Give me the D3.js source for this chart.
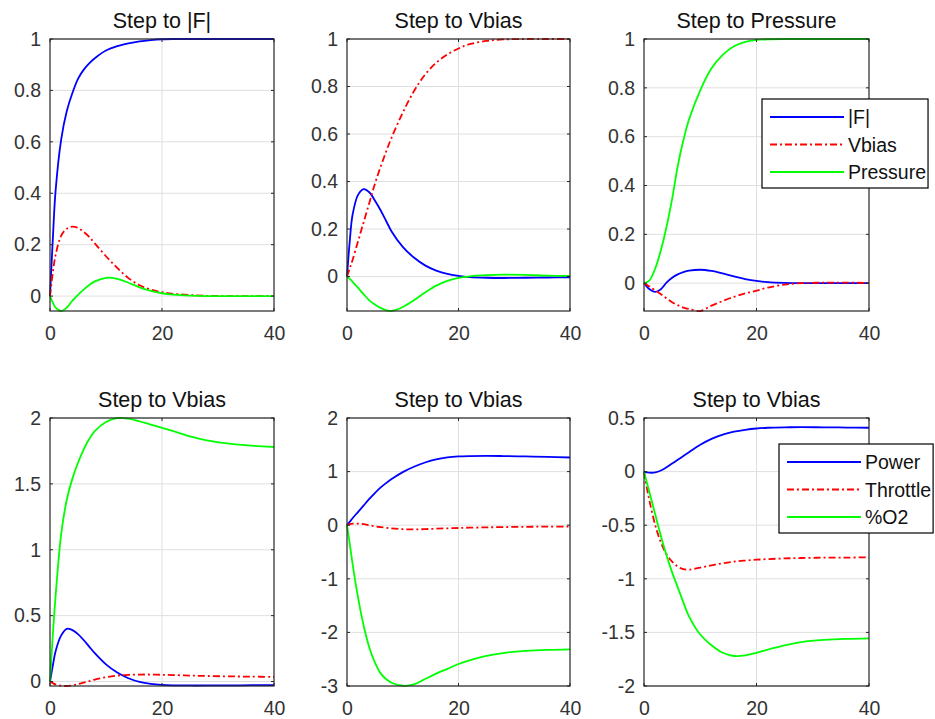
<!DOCTYPE html>
<html>
<head>
<meta charset="utf-8">
<script src="https://cdn.jsdelivr.net/npm/d3@7"></script>
<style>
  body { margin: 0; background: #fff; }
  svg { display: block; font-family: "Liberation Sans", Arial, sans-serif; }
</style>
</head>
<body>
<svg id="chart" width="935" height="719"></svg>
<script>
// time samples shared by all responses
const t = [0, 0.5, 1, 2, 3, 4, 5, 6, 7, 8, 10, 12, 14, 16, 18, 20, 22, 25, 28, 32, 36, 40];

const titles = ["Step to |F|", "Step to Vbias", "Step to Pressure", "Step to Vbias", "Step to Vbias", "Step to Vbias"];

// top row: outputs |F|, Vbias, Pressure
const p1F  = [0, .22, .41, .61, .72, .79, .845, .88, .905, .925, .955, .972, .983, .991, .996, .999, 1, 1, 1, 1, 1, 1];
const p1Vb = [0, .09, .16, .235, .262, .27, .265, .25, .23, .205, .155, .11, .07, .042, .025, .015, .009, .004, .001, 0, 0, 0];
const p1Pr = [0, -.025, -.045, -.058, -.045, -.018, .005, .025, .043, .057, .071, .067, .052, .034, .02, .011, .006, .002, 0, 0, 0, 0];

const p2F  = [0, .15, .26, .345, .368, .355, .32, .28, .235, .19, .125, .08, .047, .025, .011, .003, -.002, -.005, -.006, -.005, -.004, -.003];
const p2Vb = [0, .035, .07, .15, .23, .31, .39, .46, .525, .585, .69, .78, .85, .9, .935, .96, .978, .992, .998, 1, 1, 1];
const p2Pr = [0, -.01, -.022, -.048, -.075, -.1, -.118, -.132, -.141, -.145, -.128, -.1, -.067, -.038, -.018, -.006, .001, .006, .008, .007, .004, .003];

const p3F  = [0, -.014, -.025, -.036, -.025, .002, .022, .036, .045, .051, .055, .05, .04, .028, .017, .009, .004, .001, 0, 0, 0, 0];
const p3Vb = [0, -.007, -.014, -.03, -.045, -.062, -.078, -.09, -.1, -.106, -.114, -.092, -.073, -.056, -.042, -.031, -.018, -.006, 0, .002, .002, .001];
const p3Pr = [0, .004, .012, .06, .135, .23, .345, .48, .585, .67, .79, .88, .935, .97, .988, .996, .999, 1, 1, 1, 1, 1];

// bottom row: outputs Power, Throttle, %O2
const p4Pw = [0, .12, .23, .35, .4, .39, .36, .315, .265, .215, .13, .068, .025, -.003, -.018, -.026, -.029, -.03, -.03, -.029, -.028, -.027];
const p4Th = [0, -.012, -.022, -.032, -.034, -.03, -.02, -.008, .003, .015, .033, .045, .051, .053, .053, .051, .049, .045, .042, .039, .037, .035];
const p4O2 = [0, .35, .65, 1.12, 1.38, 1.54, 1.66, 1.76, 1.84, 1.9, 1.97, 2.0, 1.995, 1.975, 1.95, 1.925, 1.9, 1.86, 1.83, 1.805, 1.79, 1.78];

const p5Pw = [0, .065, .13, .25, .37, .49, .6, .7, .785, .86, .99, 1.09, 1.17, 1.23, 1.265, 1.283, 1.29, 1.293, 1.29, 1.283, 1.273, 1.263];
const p5Th = [0, .02, .03, .03, .02, 0, -.02, -.035, -.048, -.06, -.075, -.078, -.073, -.065, -.058, -.052, -.046, -.04, -.035, -.03, -.027, -.025];
const p5O2 = [0, -.35, -.72, -1.36, -1.88, -2.28, -2.56, -2.76, -2.87, -2.94, -2.995, -2.97, -2.87, -2.77, -2.68, -2.59, -2.52, -2.44, -2.385, -2.345, -2.325, -2.315];

const p6Pw = [0, -.006, -.01, -.008, .01, .04, .075, .11, .145, .18, .25, .305, .345, .372, .39, .402, .409, .413, .414, .413, .411, .409];
const p6Th = [0, -.15, -.28, -.5, -.66, -.77, -.84, -.885, -.91, -.915, -.895, -.875, -.855, -.84, -.83, -.822, -.816, -.81, -.806, -.803, -.802, -.8];
const p6O2 = [0, -.1, -.2, -.4, -.6, -.78, -.94, -1.08, -1.22, -1.35, -1.52, -1.62, -1.69, -1.72, -1.715, -1.69, -1.66, -1.62, -1.59, -1.57, -1.56, -1.555];

const topNames = ["|F|", "Vbias", "Pressure"];
const botNames = ["Power", "Throttle", "%O2"];

const xTicks = [0, 20, 40];
const yTicks = [
  [0, 0.2, 0.4, 0.6, 0.8, 1],
  [0, 0.2, 0.4, 0.6, 0.8, 1],
  [0, 0.2, 0.4, 0.6, 0.8, 1],
  [0, 0.5, 1, 1.5, 2],
  [-3, -2, -1, 0, 1, 2],
  [-2, -1.5, -1, -0.5, 0, 0.5]
];
// y limits given by hand where the axes are not tight
const yLims = [null, null, null, null, [-3, 2], [-2, 0.5]];

const panels = [
  [p1F, p1Vb, p1Pr], [p2F, p2Vb, p2Pr], [p3F, p3Vb, p3Pr],
  [p4Pw, p4Th, p4O2], [p5Pw, p5Th, p5O2], [p6Pw, p6Th, p6O2]
];

const colors = ["#0000ff", "#ff0000", "#00ff00"];
const dashes = [null, "7,3,2,3", null];

var svg = d3.select("#chart");

var cols = [[50, 274], [347, 570], [644, 869]],
    rows = [[39, 311], [418, 686]];

var axisColor = "#262626";

panels.forEach(function(series, i) {
  var c = cols[i % 3], r = rows[Math.floor(i / 3)];

  var x = d3.scaleLinear().domain([0, 40]).range(c);
  var all = d3.merge(series);
  var y = d3.scaleLinear()
      .domain(yLims[i] || d3.extent(all))
      .range([r[1], r[0]]);

  var g = svg.append("g");

  // grid
  g.append("g").selectAll("line").data(yTicks[i]).enter().append("line")
      .attr("x1", c[0]).attr("x2", c[1])
      .attr("y1", function(d) { return y(d); })
      .attr("y2", function(d) { return y(d); })
      .attr("stroke", "#dfdfdf").attr("stroke-width", 1);
  g.append("g").selectAll("line").data(xTicks.slice(1, -1)).enter().append("line")
      .attr("x1", function(d) { return x(d); })
      .attr("x2", function(d) { return x(d); })
      .attr("y1", r[0]).attr("y2", r[1])
      .attr("stroke", "#dfdfdf").attr("stroke-width", 1);

  // axes with labels
  var ax = g.append("g")
      .attr("transform", "translate(" + c[0] + ",0)")
      .call(d3.axisLeft(y).tickValues(yTicks[i]).tickSize(0).tickPadding(9)
        .tickFormat(function(d) { return String(d); }));
  var bx = g.append("g")
      .attr("transform", "translate(0," + r[1] + ")")
      .call(d3.axisBottom(x).tickValues(xTicks).tickSize(0).tickPadding(15)
        .tickFormat(function(d) { return String(d); }));
  [ax, bx].forEach(function(a) {
    a.select(".domain").remove();
    a.selectAll("text")
        .attr("fill", "#333")
        .style("font-size", "19.5px")
        .style("font-family", "'Liberation Sans', Arial, sans-serif");
  });

  // data lines
  var line = d3.line()
      .x(function(d, k) { return x(t[k]); })
      .y(function(d) { return y(d); })
      .curve(d3.curveCatmullRom.alpha(0.5));

  series.forEach(function(s, k) {
    g.append("path")
        .datum(s)
        .attr("d", line)
        .attr("fill", "none")
        .attr("stroke", colors[k])
        .attr("stroke-width", 1.8)
        .attr("stroke-dasharray", dashes[k]);
  });

  // inward tick marks on all four sides
  var tk = g.append("g").attr("stroke", axisColor).attr("stroke-width", 1);
  yTicks[i].forEach(function(d) {
    tk.append("line").attr("x1", c[0]).attr("x2", c[0] + 3).attr("y1", y(d)).attr("y2", y(d));
    tk.append("line").attr("x1", c[1]).attr("x2", c[1] - 3).attr("y1", y(d)).attr("y2", y(d));
  });
  xTicks.forEach(function(d) {
    tk.append("line").attr("x1", x(d)).attr("x2", x(d)).attr("y1", r[1]).attr("y2", r[1] - 3);
    tk.append("line").attr("x1", x(d)).attr("x2", x(d)).attr("y1", r[0]).attr("y2", r[0] + 3);
  });

  // box
  g.append("rect")
      .attr("x", c[0]).attr("y", r[0])
      .attr("width", c[1] - c[0]).attr("height", r[1] - r[0])
      .attr("fill", "none").attr("stroke", axisColor).attr("stroke-width", 1.2);

  // title
  g.append("text")
      .attr("x", (c[0] + c[1]) / 2)
      .attr("y", r[0] - 11)
      .attr("text-anchor", "middle")
      .attr("fill", "#111")
      .style("font-size", "21.5px")
      .text(titles[i]);
});

// legends on the right-hand panels
function legend(names, left, top) {
  var lg = svg.append("g").attr("transform", "translate(" + left + "," + top + ")");
  var box = lg.append("rect")
      .attr("fill", "#fff").attr("stroke", "#000").attr("stroke-width", 1.2);
  var w = 0;
  names.forEach(function(n, k) {
    var yy = 18 + k * 27.5;
    lg.append("line")
        .attr("x1", 8).attr("x2", 82).attr("y1", yy).attr("y2", yy)
        .attr("stroke", colors[k]).attr("stroke-width", 1.8)
        .attr("stroke-dasharray", dashes[k]);
    var tx = lg.append("text")
        .attr("x", 86).attr("y", yy + 7)
        .attr("fill", "#111")
        .style("font-size", "19.5px")
        .text(n);
    w = Math.max(w, tx.node().getComputedTextLength());
  });
  box.attr("x", 0).attr("y", 0).attr("width", 86 + w + 2).attr("height", 89);
}

legend(topNames, 762, 99);
legend(botNames, 779, 444);
</script>
</body>
</html>
